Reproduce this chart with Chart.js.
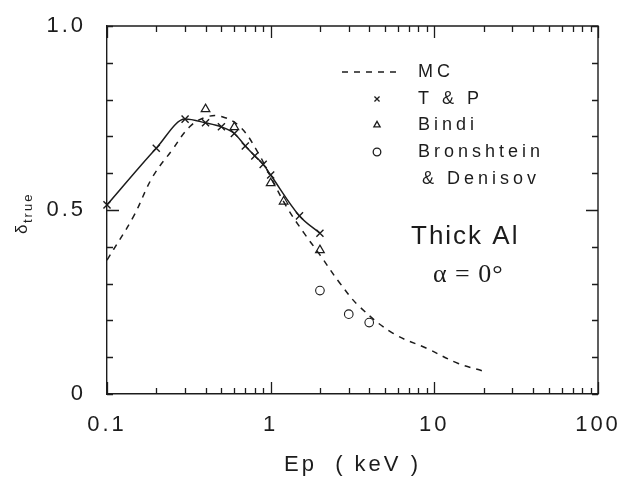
<!DOCTYPE html>
<html>
<head>
<meta charset="utf-8">
<script src="https://cdn.jsdelivr.net/npm/chart.js@4.4.1/dist/chart.umd.min.js"></script>
<style>
  html, body { margin: 0; background: #fff; }
  #wrap { width: 626px; height: 480px; }
</style>
</head>
<body>
<div id="wrap"><canvas id="c" width="626" height="480"></canvas></div>
<script>
// secondary electron yield, thick Al, normal incidence
const mcEnergy = [0.1, 0.145, 0.19, 0.25, 0.32, 0.4, 0.5, 0.65, 0.82, 1.0, 1.25, 1.6, 2.0, 2.65, 3.5, 5.6, 9, 14, 20];
const mcYield  = [0.364, 0.482, 0.59, 0.663, 0.726, 0.752, 0.754, 0.726, 0.663, 0.59, 0.509, 0.437, 0.378, 0.301, 0.237, 0.165, 0.124, 0.083, 0.062];

const tpEnergy = [0.1, 0.2, 0.3, 0.4, 0.5, 0.6, 0.7, 0.8, 0.9, 1.0, 1.5, 2.0];
const tpYield  = [0.514, 0.668, 0.747, 0.737, 0.726, 0.708, 0.674, 0.647, 0.624, 0.595, 0.484, 0.437];

const bindiEnergy = [0.4, 0.6, 1.0, 1.2, 2.0];
const bindiYield  = [0.774, 0.725, 0.573, 0.523, 0.391];

const bdEnergy = [2, 3, 4];
const bdYield  = [0.281, 0.217, 0.194];

const xTickValues = [0.1, 1, 10, 100];
const xTickText = ['0.1', '1', '10', '100'];
const yTickValues = [0, 0.5, 1];
const yTickText = ['0', '0.5', '1.0'];

const ink = '#1c1c1c';
const pts = (xs, ys) => xs.map((x, i) => ({ x: x, y: ys[i] }));

// inward ticks on all four sides, frame, legend and the labels inside the plot
const decorations = {
  id: 'decorations',
  beforeDraw(chart) {
    chart.ctx.letterSpacing = '3px';
  },
  afterDraw(chart) {
    const ctx = chart.ctx;
    const { left, right, top, bottom } = chart.chartArea;
    const xs = chart.scales.x, ys = chart.scales.y;
    ctx.save();
    ctx.letterSpacing = '0px';
    ctx.strokeStyle = ink;
    ctx.lineWidth = 1.4;
    ctx.beginPath();
    ctx.moveTo(left, top); ctx.lineTo(right, top); ctx.lineTo(right, bottom);
    ctx.stroke();

    ctx.lineWidth = 1.3;
    ctx.beginPath();
    // log ticks 1..9 per decade
    const e0 = Math.round(Math.log10(xs.min)), e1 = Math.round(Math.log10(xs.max));
    for (let e = e0; e <= e1; e++) {
      for (let m = 1; m <= 9; m++) {
        const v = m * Math.pow(10, e);
        if (v > xs.max * 1.0001) break;
        const len = m === 1 ? 12 : 6;
        const px = Math.round(xs.getPixelForValue(v)) + 0.5;
        ctx.moveTo(px, bottom); ctx.lineTo(px, bottom - len);
        ctx.moveTo(px, top); ctx.lineTo(px, top + len);
      }
    }
    ys.ticks.forEach(t => {
      const major = Math.abs(t.value - 0.5) < 1e-6;
      const len = major ? 12 : 6;
      const py = Math.round(ys.getPixelForValue(t.value)) + 0.5;
      ctx.moveTo(left, py); ctx.lineTo(left + len, py);
      ctx.moveTo(right, py); ctx.lineTo(right - len, py);
    });
    ctx.stroke();

    // legend
    const ds = chart.data.datasets;
    const rows = [
      { d: ds[0], y: 72, text: 'MC' },
      { d: ds[1], y: 99, text: 'T & P' },
      { d: ds[2], y: 125, text: 'Bindi' },
      { d: ds[3], y: 152, text: 'Bronshtein' }
    ];
    ctx.font = '18px "Liberation Sans", Arial, sans-serif';
    ctx.textBaseline = 'middle';
    ctx.textAlign = 'left';
    rows.forEach(r => {
      if (r.d.pointStyle === false) {
        ctx.save();
        ctx.setLineDash(r.d.borderDash);
        ctx.lineWidth = r.d.borderWidth;
        ctx.beginPath();
        ctx.moveTo(342, r.y); ctx.lineTo(398, r.y);
        ctx.stroke();
        ctx.restore();
      } else {
        ctx.fillStyle = 'rgba(255,255,255,0)';
        Chart.helpers.drawPoint(ctx, {
          pointStyle: r.d.pointStyle, radius: r.d.pointStyle === 'circle' ? 3.8 : 3.6,
          rotation: 0, borderWidth: 1.1
        }, 377, r.y);
      }
      ctx.fillStyle = ink;
      ctx.letterSpacing = '4px';
      ctx.fillText(r.text, 418, r.y);
      ctx.letterSpacing = '0px';
    });
    ctx.fillStyle = ink;
    ctx.letterSpacing = '4px';
    ctx.fillText('& Denisov', 422, 179);

    ctx.letterSpacing = '2px';
    ctx.font = '26px "Liberation Sans", Arial, sans-serif';
    ctx.fillText('Thick Al', 411, 237);
    ctx.letterSpacing = '1px';
    ctx.font = '26px "Liberation Serif", "Times New Roman", serif';
    ctx.fillText('\u03b1 = 0\u00b0', 433, 275);

    // y axis title with subscript
    ctx.translate(22, 234);
    ctx.rotate(-Math.PI / 2);
    ctx.letterSpacing = '0px';
    ctx.font = '17px "Liberation Sans", Arial, sans-serif';
    ctx.fillText('\u03b4', 0, 0);
    ctx.letterSpacing = '2px';
    ctx.font = '13px "Liberation Sans", Arial, sans-serif';
    ctx.fillText('true', 11, 6);
    ctx.restore();
  }
};

const tickFont = { family: '"Liberation Sans", Arial, sans-serif', size: 22 };

new Chart(document.getElementById('c'), {
  type: 'scatter',
  data: {
    datasets: [
      {
        label: 'MC',
        data: pts(mcEnergy, mcYield),
        showLine: true,
        borderColor: ink,
        borderWidth: 1.5,
        borderDash: [6, 6],
        tension: 0.4,
        pointRadius: 0,
        pointStyle: false,
        clip: false
      },
      {
        label: 'T & P',
        data: pts(tpEnergy, tpYield),
        showLine: true,
        cubicInterpolationMode: 'monotone',
        borderColor: ink,
        borderWidth: 1.5,
        pointStyle: 'crossRot',
        pointRadius: 5,
        pointBorderWidth: 1.4,
        pointBorderColor: ink,
        clip: false
      },
      {
        label: 'Bindi',
        data: pts(bindiEnergy, bindiYield),
        pointStyle: 'triangle',
        pointRadius: 5,
        pointBorderWidth: 1.2,
        pointBorderColor: ink,
        pointBackgroundColor: 'rgba(255,255,255,0)',
        clip: false
      },
      {
        label: 'Bronshtein & Denisov',
        data: pts(bdEnergy, bdYield),
        pointStyle: 'circle',
        pointRadius: 4.3,
        pointBorderWidth: 1.1,
        pointBorderColor: ink,
        pointBackgroundColor: 'rgba(255,255,255,0)',
        clip: false
      }
    ]
  },
  options: {
    responsive: false,
    animation: false,
    devicePixelRatio: 1,
    layout: { padding: { left: 0, right: 28, top: 26, bottom: 0 } },
    plugins: { legend: { display: false }, tooltip: { enabled: false } },
    scales: {
      x: {
        type: 'logarithmic',
        min: 0.1,
        max: 100,
        afterFit: s => { s.height = 86; s.paddingLeft = 0; s.paddingRight = 0; },
        grid: { display: false, drawTicks: false },
        border: { display: true, color: ink, width: 1.4 },
        ticks: {
          autoSkip: false,
          maxRotation: 0,
          padding: 18,
          color: ink,
          font: tickFont,
          callback: v => {
            const i = xTickValues.findIndex(t => Math.abs(t - v) < 1e-9);
            return i >= 0 ? xTickText[i] : '';
          }
        },
        title: {
          display: true,
          text: 'Ep  ( keV )',
          color: ink,
          font: { family: '"Liberation Sans", Arial, sans-serif', size: 22 },
          padding: { top: 0, bottom: 2 }
        }
      },
      y: {
        min: 0,
        max: 1,
        afterFit: s => { s.width = 107; s.paddingTop = 0; s.paddingBottom = 0; },
        grid: { display: false, drawTicks: false },
        border: { display: true, color: ink, width: 1.4 },
        ticks: {
          stepSize: 0.1,
          autoSkip: false,
          padding: 21,
          color: ink,
          font: tickFont,
          callback: v => {
            const i = yTickValues.findIndex(t => Math.abs(t - v) < 1e-9);
            return i >= 0 ? yTickText[i] : '';
          }
        }
      }
    }
  },
  plugins: [decorations]
});
</script>
</body>
</html>
